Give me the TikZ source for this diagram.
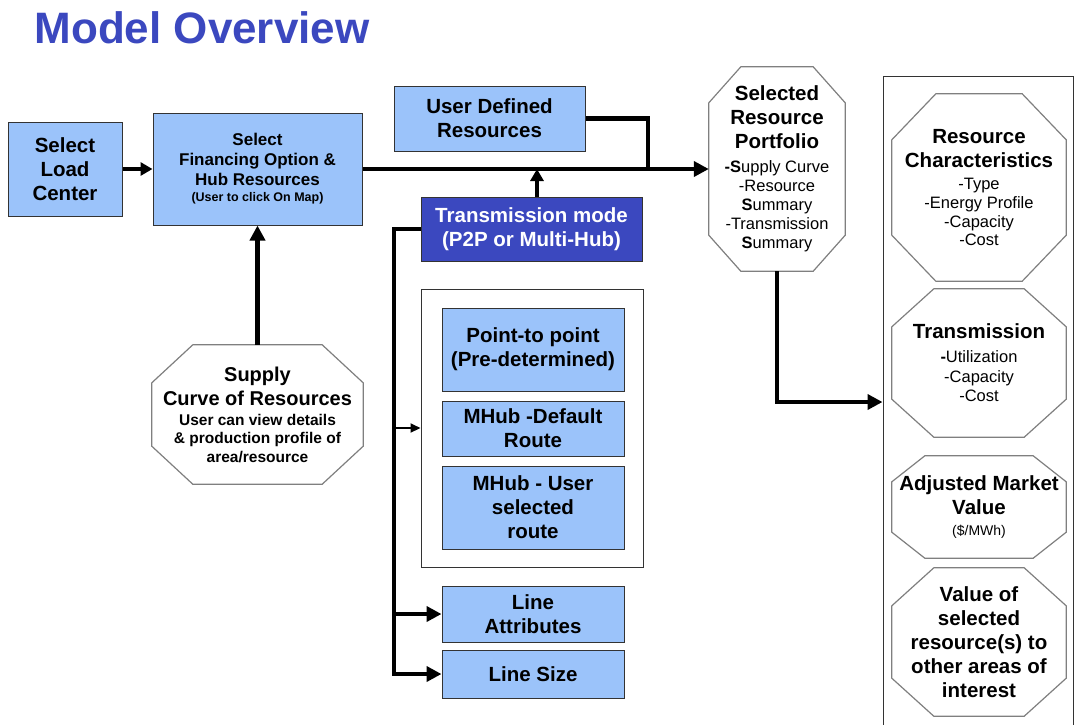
\documentclass[tikz,border=0pt]{standalone}
\usepackage{fontspec}
\setmainfont{Liberation Sans}
\usepackage{xcolor}
\usepackage{tikz}
\usetikzlibrary{arrows.meta,calc}
\definecolor{titleblue}{HTML}{3B48BF}
\definecolor{boxblue}{HTML}{9BC3FA}
\definecolor{modeblue}{HTML}{3B48BF}
\definecolor{edge}{HTML}{333333}
\definecolor{octgrey}{HTML}{7F7F7F}
\newcommand{\BoxFont}{\bfseries\fontsize{20.5}{24}\selectfont}
\newcommand{\SubFont}{\mdseries\fontsize{16.5}{19}\selectfont}
\newcommand{\NoteFont}{\bfseries\fontsize{15.5}{18.5}\selectfont}
\tikzset{
  blockbox/.style={draw=edge, line width=1pt, fill=boxblue, align=center, inner sep=0pt, font=\BoxFont},
  modebox/.style={blockbox, fill=modeblue, text=white},
  framebox/.style={draw=edge, line width=1pt, inner sep=0pt},
  octnode/.style={inner sep=0pt, align=center, font=\BoxFont},
  octline/.style={draw=octgrey, line width=1.2pt},
  thickline/.style={line width=4.5pt, draw=black},
  thickarrow/.style={thickline, -{Triangle[length=15pt,width=15pt]}},
  midarrow/.style={line width=3.5pt, draw=black, -{Triangle[length=12pt,width=13pt]}},
  thinarrow/.style={line width=2pt, draw=black, -{Triangle[length=10pt,width=9pt]}}
}
\newcommand{\OctOutline}[3]{% node, cut x, cut y
  \draw[octline] ($(#1.north west)+(#2,0)$) -- ($(#1.north east)+(-#2,0)$)
    -- ($(#1.north east)+(0,#3)$) -- ($(#1.south east)+(0,-#3)$)
    -- ($(#1.south east)+(-#2,0)$) -- ($(#1.south west)+(#2,0)$)
    -- ($(#1.south west)+(0,-#3)$) -- ($(#1.north west)+(0,#3)$) -- cycle;
}

\begin{document}
\begin{tikzpicture}[x=1pt,y=-1pt]
  \useasboundingbox (0,0) rectangle (1075,724);
  \node[anchor=base west, text=titleblue, font=\bfseries\fontsize{44}{44}\selectfont] (title) at (31,43) {Model Overview};

  % left chain
  \node[blockbox, minimum width=114, minimum height=94] (load) at (65,169) {Select\\Load\\Center};
  \node[blockbox, minimum width=209, minimum height=112, font=\bfseries\fontsize{17}{20}\selectfont] (fin) at (257.5,169)
    {Select\\Financing Option \&\\Hub Resources\\[-4pt]\fontsize{12.5}{15}\selectfont (User to click On Map)};
  \node[octnode, minimum width=211, minimum height=139, font=\bfseries\fontsize{20}{24}\selectfont] (supply) at (257.5,414.5)
    {Supply\\Curve of Resources\\[-4pt]\NoteFont User can view details\\[-5.5pt]\NoteFont \& production profile of\\[-5.5pt]\NoteFont area/resource};

  % middle column
  \node[blockbox, minimum width=191, minimum height=65] (udr) at (489.5,118.5) {User Defined\\Resources};
  \node[modebox, minimum width=221, minimum height=64] (tmode) at (531.5,229) {Transmission mode\\(P2P or Multi-Hub)};
  \node[framebox, minimum width=222, minimum height=278] (inner) at (532,428) {};
  \node[blockbox, minimum width=182, minimum height=83] (p2p) at (533,349.5) {Point-to point\\(Pre-determined)};
  \node[blockbox, minimum width=182, minimum height=55] (mdef) at (533,428.5) {MHub -Default\\Route};
  \node[blockbox, minimum width=182, minimum height=83] (muser) at (533,507.5) {MHub - User\\selected\\route};
  \node[blockbox, minimum width=182, minimum height=56] (lattr) at (533,614) {Line\\Attributes};
  \node[blockbox, minimum width=182, minimum height=48] (lsize) at (533,674) {Line Size};

  % portfolio and outputs
  \node[octnode, minimum width=136, minimum height=204] (port) at (777,169)
    {Selected\\Resource\\Portfolio\\\SubFont{\bfseries -S}upply Curve\\[-5pt]\SubFont -Resource\\[-5pt]\SubFont{\bfseries S}ummary\\[-5pt]\SubFont -Transmission\\[-5pt]\SubFont{\bfseries S}ummary};
  \node[framebox, minimum width=190, minimum height=652] (outputs) at (978,402) {};
  \node[octnode, minimum width=174, minimum height=187] (rchar) at (979,187.5)
    {Resource\\Characteristics\\[-2pt]\SubFont -Type\\[-5pt]\SubFont -Energy Profile\\[-5pt]\SubFont -Capacity\\[-5.5pt]\SubFont -Cost};
  \node[octnode, minimum width=174, minimum height=148] (trans) at (979,363)
    {Transmission\\\SubFont{\bfseries -}Utilization\\[-4.5pt]\SubFont -Capacity\\[-4.5pt]\SubFont -Cost};
  \node[octnode, minimum width=174, minimum height=102] (amv) at (979,507)
    {Adjusted Market\\Value\\[-3pt]\mdseries\fontsize{14}{17}\selectfont (\$/MWh)};
  \node[octnode, minimum width=174, minimum height=148] (valsel) at (979,642)
    {Value of\\selected\\resource(s) to\\other areas of\\interest};

  \OctOutline{supply}{41}{38}
  \OctOutline{port}{32}{36}
  \OctOutline{rchar}{44}{46}
  \OctOutline{trans}{42}{38}
  \OctOutline{amv}{33}{26}
  \OctOutline{valsel}{42}{38}

  % connectors
  \coordinate (udrjoin) at (648,169);
  \coordinate (tup) at (537,197);
  \coordinate (spine) at (394,0);
  \draw[midarrow] (load.east) -- (load.east -| fin.west);
  \draw[thickarrow] (fin.east) -- (fin.east -| port.west);
  \draw[thickline] (udr.east) -| (udrjoin);
  \draw[midarrow] (tup) -- (tup |- fin.east);
  \draw[thickarrow] (supply.north) -- (fin.south);
  \draw[thickarrow] (tmode.west) -- (tmode.west -| spine) |- (lsize.west);
  \draw[thickarrow] (lattr.west -| spine) -- (lattr.west);
  \draw[thinarrow] (inner.west -| spine) -- (inner.west);
  \draw[thickarrow] (port.south) |- (outputs.west);
\end{tikzpicture}
\end{document}
